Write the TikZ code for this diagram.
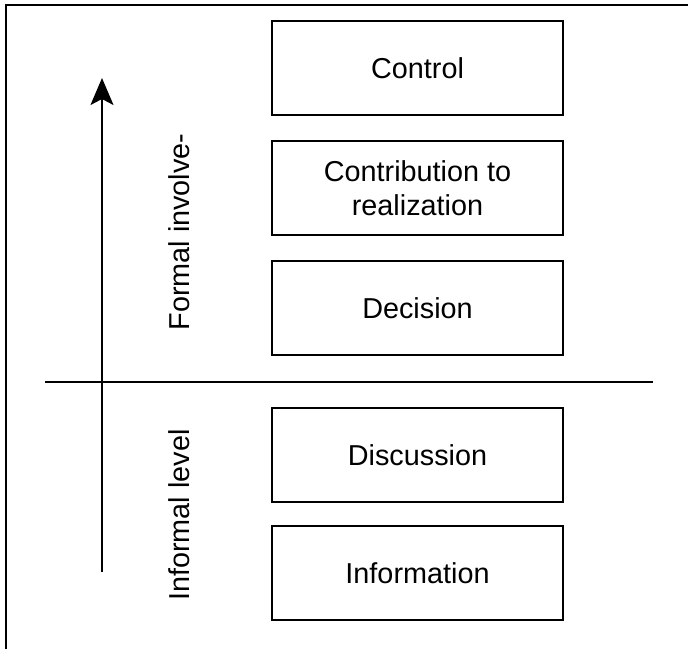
\documentclass[tikz,border=0pt]{standalone}
\usepackage{fontspec}
\setmainfont{Liberation Sans}
\usetikzlibrary{arrows.meta}

\tikzset{
  levelbox/.style={draw, line width=0.9pt, minimum width=145.5pt, minimum height=47pt,
    align=center, font=\fontsize{14.4}{17}\selectfont},
  sidelabel/.style={rotate=90, font=\fontsize{14.4}{17}\selectfont}
}

\begin{document}
\begin{tikzpicture}[x=0.5pt, y=-0.5pt]
  \useasboundingbox (0,0) rectangle (688,649);
  % --- frame (top and left edge only) ---
  \draw[line width=0.9pt] (6,649) -- (6,5) -- (688,5);
  % --- levels of involvement ---
  \node[levelbox] (control)  at (417.5,68)    {Control};
  \node[levelbox] (contrib)  at (417.5,188.3) {Contribution to\\realization};
  \node[levelbox] (decision) at (417.5,308)   {Decision};
  \node[levelbox] (discuss)  at (417.5,454.7) {Discussion};
  \node[levelbox] (inform)   at (417.5,573.3) {Information};
  % --- divider between formal and informal ---
  \coordinate (divleft)  at (45,381.7);
  \coordinate (divright) at (653,381.7);
  \draw[line width=0.9pt] (divleft) -- (divright);
  % --- axis arrow ---
  \coordinate (axisfoot) at (102,572);
  \coordinate (axistip)  at (102,78);
  \draw[line width=0.9pt, -{Stealth[length=13.5pt, width=11.5pt, inset=3pt]}] (axisfoot) -- (axistip);
  % Labels
  \node[sidelabel] (formal)   at (179,232) {Formal involve-};
  \node[sidelabel] (informal) at (179,515) {Informal level};
\end{tikzpicture}
\end{document}
